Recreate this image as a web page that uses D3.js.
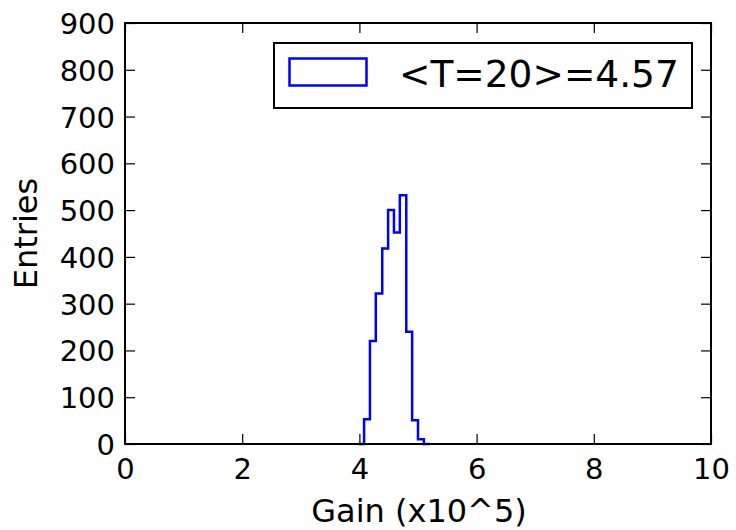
<!DOCTYPE html>
<html>
<head>
<meta charset="utf-8">
<script src="https://cdn.jsdelivr.net/npm/d3@7"></script>
<style>
  html, body { margin: 0; padding: 0; background: #fff; }
  svg { display: block; font-family: "DejaVu Sans", sans-serif; }
</style>
</head>
<body>
<svg id="chart" width="736" height="530"></svg>
<script>
// Data
const binEdges = [3.98, 4.08, 4.18, 4.28, 4.39, 4.49, 4.59, 4.69, 4.80, 4.90, 5.00, 5.10, 5.20];
const binCounts = [0, 53, 220, 322, 418, 500, 452, 532, 240, 51, 10, 0];
const xTicks = [0, 2, 4, 6, 8, 10];
const yTicks = [0, 100, 200, 300, 400, 500, 600, 700, 800, 900];
const legendLabel = "<T=20>=4.57";
const xLabel = "Gain (x10^5)";
const yLabel = "Entries";

const svg = d3.select("#chart");
const L = 125, R = 711, T = 23, B = 444;
const x = d3.scaleLinear().domain([0, 10]).range([L, R]);
const y = d3.scaleLinear().domain([0, 900]).range([B, T]);

// Histogram step line
const pts = [];
pts.push([binEdges[0], 0]);
binCounts.forEach((c, i) => {
  pts.push([binEdges[i], c]);
  pts.push([binEdges[i + 1], c]);
});
pts.push([binEdges[binEdges.length - 1], 0]);
const line = d3.line().x(d => x(d[0])).y(d => y(d[1]));
svg.append("path").attr("d", line(pts))
  .attr("fill", "none").attr("stroke", "#0000ff").attr("stroke-width", 2.5)
  .attr("stroke-linejoin", "miter");

// Axes with inward ticks
const tickLen = 10;
const gx = svg.append("g").attr("transform", `translate(0,${B})`)
  .call(d3.axisBottom(x).tickValues(xTicks).tickSize(-tickLen).tickPadding(14).tickFormat(d3.format("d")));
const gxTop = svg.append("g").attr("transform", `translate(0,${T})`)
  .call(d3.axisTop(x).tickValues(xTicks).tickSize(-tickLen).tickFormat(""));
const gy = svg.append("g").attr("transform", `translate(${L},0)`)
  .call(d3.axisLeft(y).tickValues(yTicks).tickSize(-tickLen).tickPadding(10).tickFormat(d3.format("d")));
const gyR = svg.append("g").attr("transform", `translate(${R},0)`)
  .call(d3.axisRight(y).tickValues(yTicks).tickSize(-tickLen).tickFormat(""));

[gx, gxTop, gy, gyR].forEach(g => {
  g.select(".domain").remove();
  g.selectAll(".tick line").attr("stroke", "#000").attr("stroke-width", 1.2);
  g.selectAll(".tick text").attr("font-size", 29).attr("fill", "#000")
    .attr("font-family", "DejaVu Sans");
});
gx.selectAll(".tick text").attr("dy", "0.71em");
gy.selectAll(".tick text").attr("dy", "0.36em");

// Frame
svg.append("rect").attr("x", L).attr("y", T).attr("width", R - L).attr("height", B - T)
  .attr("fill", "none").attr("stroke", "#000").attr("stroke-width", 2);

// Axis labels
svg.append("text").attr("x", (L + R) / 2 + 1).attr("y", 522).attr("text-anchor", "middle")
  .attr("font-size", 32).text(xLabel);
svg.append("text").attr("transform", `translate(37,${(T + B) / 2}) rotate(-90)`)
  .attr("text-anchor", "middle").attr("font-size", 32).text(yLabel);

// Legend
const lg = svg.append("g");
lg.append("rect").attr("x", 274).attr("y", 43).attr("width", 418).attr("height", 65)
  .attr("fill", "#fff").attr("stroke", "#000").attr("stroke-width", 2);
lg.append("rect").attr("x", 289.5).attr("y", 58.5).attr("width", 77).attr("height", 27)
  .attr("fill", "none").attr("stroke", "#0000ff").attr("stroke-width", 2.5);
lg.append("text").attr("x", 399).attr("y", 86.5).attr("font-size", 37.5).text(legendLabel);
</script>
</body>
</html>
